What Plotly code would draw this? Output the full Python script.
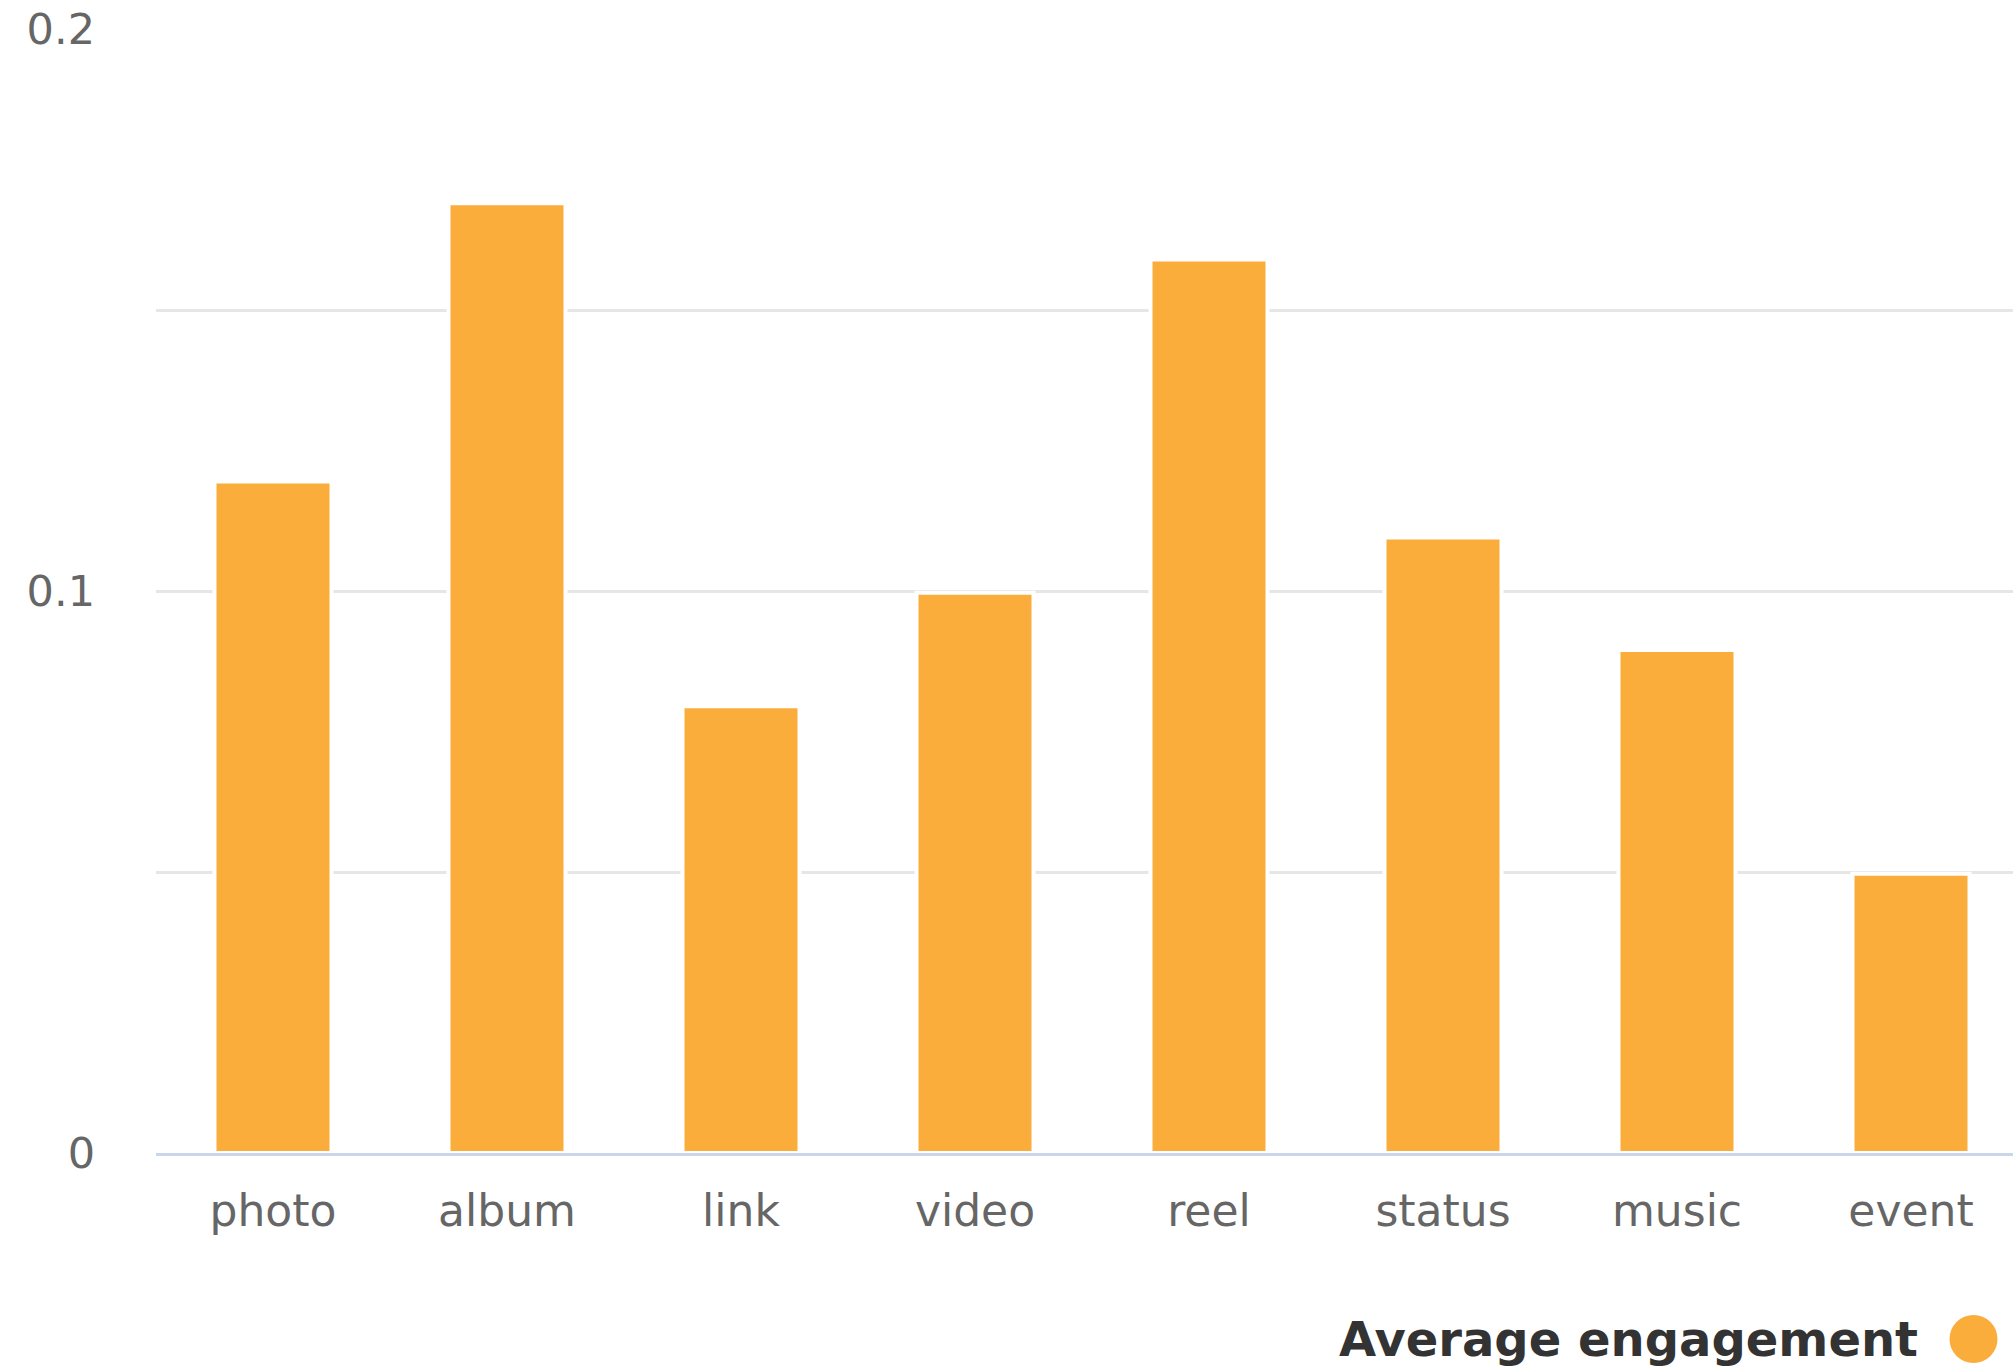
import plotly.graph_objects as go

# Average engagement per post type
post_types = ["photo", "album", "link", "video", "reel", "status", "music", "event"]
avg_engagement = [0.1195, 0.169, 0.0795, 0.0997, 0.159, 0.1095, 0.0895, 0.0497]

# Y axis ticks: gridlines every 0.05, labels every 0.1
y_tickvals = [0, 0.05, 0.1, 0.15, 0.2]
y_ticktext = ["0", "", "0.1", "", "0.2"]

series_name = "Average engagement"
bar_color = "#FAAD3B"
font_family = "DejaVu Sans"

W, H = 2013, 1369
M_L, M_R, M_T, M_B = 156, 0, 29, 216
plot_w = W - M_L - M_R
plot_h = H - M_T - M_B

fig = go.Figure()
fig.add_trace(go.Bar(
    x=post_types,
    y=avg_engagement,
    name=series_name,
    marker=dict(color=bar_color, line=dict(color="white", width=4)),
    showlegend=False,
))

fig.update_layout(
    width=W,
    height=H,
    margin=dict(l=M_L, r=M_R, t=M_T, b=M_B, pad=0),
    paper_bgcolor="white",
    plot_bgcolor="white",
    bargap=0.5,
    font=dict(family=font_family, size=43, color="#666666"),
    xaxis=dict(
        type="category",
        range=[-0.5, -0.5 + plot_w / 234.0],
        showgrid=False,
        zeroline=False,
        showline=True,
        linecolor="#CCD6EB",
        linewidth=3,
        ticks="",
        ticklabelstandoff=17,
        tickfont=dict(family=font_family, size=44, color="#666666"),
    ),
    yaxis=dict(
        range=[0, 0.2],
        tickvals=y_tickvals,
        ticktext=y_ticktext,
        showgrid=True,
        gridcolor="#E6E6E6",
        gridwidth=3,
        zeroline=False,
        showline=False,
        ticks="",
        ticklabelstandoff=60,
        tickfont=dict(family=font_family, size=43, color="#666666"),
    ),
)

# Legend row below the plot: bold label followed by a round swatch
legend_y_px = 1339
fig.add_annotation(
    xref="paper", yref="paper",
    x=(1920 - M_L) / plot_w,
    y=(M_T + plot_h - legend_y_px) / plot_h,
    xanchor="right", yanchor="middle",
    text="<b>" + series_name + "</b>",
    showarrow=False,
    font=dict(family=font_family, size=48, color="#333333"),
)
fig.add_shape(
    type="circle",
    xref="paper", yref="paper",
    xsizemode="pixel", ysizemode="pixel",
    xanchor=(1973.5 - M_L) / plot_w,
    yanchor=(M_T + plot_h - legend_y_px) / plot_h,
    x0=-24, x1=24, y0=-24, y1=24,
    fillcolor=bar_color,
    line=dict(width=0),
)

fig.write_html("out.html")
